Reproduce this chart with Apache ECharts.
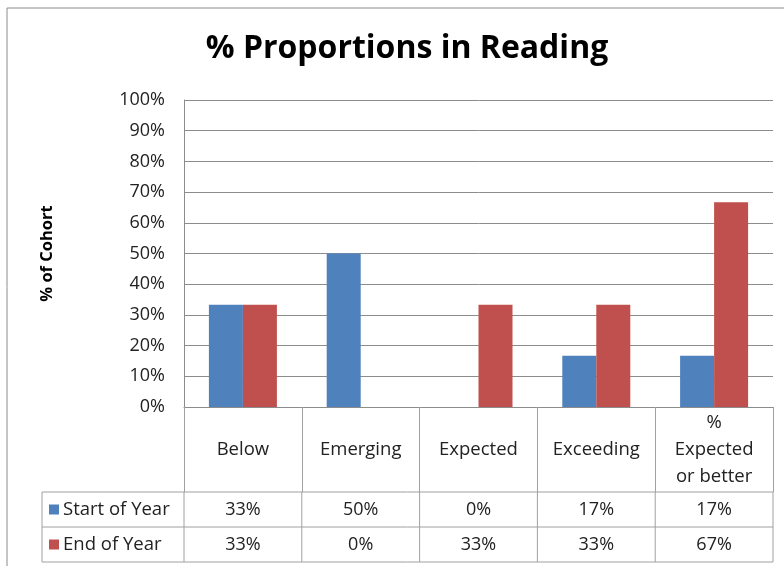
<!DOCTYPE html>
<html><head><meta charset="utf-8">
<script src="https://cdn.jsdelivr.net/npm/echarts@6/dist/echarts.min.js"></script>
<style>html,body{margin:0;padding:0;background:#fff}#c{width:784px;height:566px}</style>
</head><body><div id="c"></div>
<script>
var categories = ['Below', 'Emerging', 'Expected', 'Exceeding', '%\nExpected\nor better'];
var seriesNames = ['Start of Year', 'End of Year'];
var startOfYear = [33.3, 50, 0, 16.7, 16.7];
var endOfYear = [33.3, 0, 33.3, 33.3, 66.7];
var yTicks = [0, 10, 20, 30, 40, 50, 60, 70, 80, 90, 100];

var FONT = '"Open Sans", sans-serif';
var BLUE = '#4F81BD', RED = '#C0504D';
var GL = 184, GR = 11, GT = 100, GB = 159;
var chart = echarts.init(document.getElementById('c'));
var option = {
  animation: false,
  backgroundColor: '#fff',
  title: {text: '% Proportions in Reading', left: 402, top: 28, textAlign: 'center',
    textStyle: {fontFamily: FONT, fontWeight: 'bold', fontSize: 32, color: '#000'}},
  grid: {left: GL, right: GR, top: GT, bottom: GB},
  xAxis: {type: 'category', data: categories,
    axisLine: {lineStyle: {color: '#8c8c8c'}},
    axisTick: {show: true, length: 85, inside: false, lineStyle: {color: '#a0a0a0'}},
    axisLabel: {interval: 0, margin: 43, verticalAlign: 'middle', lineHeight: 27,
      fontFamily: FONT, fontSize: 18.5, color: '#222'}},
  yAxis: {type: 'value', min: yTicks[0], max: yTicks[yTicks.length - 1], interval: yTicks[1] - yTicks[0],
    name: '% of Cohort', nameLocation: 'middle', nameGap: 128, nameRotate: 90,
    nameTextStyle: {fontFamily: FONT, fontWeight: 'bold', fontSize: 16.5, color: '#000'},
    axisLine: {show: true, lineStyle: {color: '#8c8c8c'}},
    axisTick: {show: false},
    splitLine: {lineStyle: {color: '#8c8c8c'}},
    axisLabel: {margin: 19, fontFamily: FONT, fontSize: 18, color: '#222',
      formatter: function (v) { return v + '%'; }}},
  series: [
    {name: seriesNames[0], type: 'bar', data: startOfYear, barWidth: 34, barGap: '0%', itemStyle: {color: BLUE}},
    {name: seriesNames[1], type: 'bar', data: endOfYear, barWidth: 34, barGap: '0%', itemStyle: {color: RED}}
  ]
};
chart.setOption(option);

// Build the data table from the arrays
var W = 784, H = 566;
var plotRight = W - GR;
var tblLeft = 42, row1Top = 492, rowH = 35;
var gfx = [];
gfx.push({type: 'rect', shape: {x: 7, y: 8, width: 800, height: 600}, style: {fill: null, stroke: '#8c8c8c', lineWidth: 1}, silent: true});
var lineStyle = {stroke: '#a0a0a0', lineWidth: 1};
for (var r = 0; r <= 2; r++) {
  var yy = row1Top + r * rowH;
  gfx.push({type: 'line', shape: {x1: tblLeft, y1: yy, x2: plotRight, y2: yy}, style: lineStyle});
}
gfx.push({type: 'line', shape: {x1: tblLeft, y1: row1Top, x2: tblLeft, y2: row1Top + 2 * rowH}, style: lineStyle});
var catW = (plotRight - GL) / categories.length;
for (var i = 0; i <= categories.length; i++) {
  var xx = GL + i * catW;
  gfx.push({type: 'line', shape: {x1: xx, y1: row1Top, x2: xx, y2: row1Top + 2 * rowH}, style: lineStyle});
}
var rows = [startOfYear, endOfYear];
var colors = [BLUE, RED];
rows.forEach(function (vals, ri) {
  var cy = row1Top + ri * rowH + rowH / 2;
  gfx.push({type: 'rect', shape: {x: 49, y: cy - 5, width: 10, height: 10}, style: {fill: colors[ri]}});
  gfx.push({type: 'text', style: {text: seriesNames[ri], x: 63, y: cy, verticalAlign: 'middle', align: 'left',
    font: '18.5px ' + FONT, fill: '#222'}});
  vals.forEach(function (v, ci) {
    var cx = chart.convertToPixel({xAxisIndex: 0}, ci);
    gfx.push({type: 'text', style: {text: Math.round(v) + '%', x: cx, y: cy, align: 'center', verticalAlign: 'middle',
      font: '18px ' + FONT, fill: '#222'}});
  });
});
chart.setOption({graphic: {elements: gfx}});
</script></body></html>
